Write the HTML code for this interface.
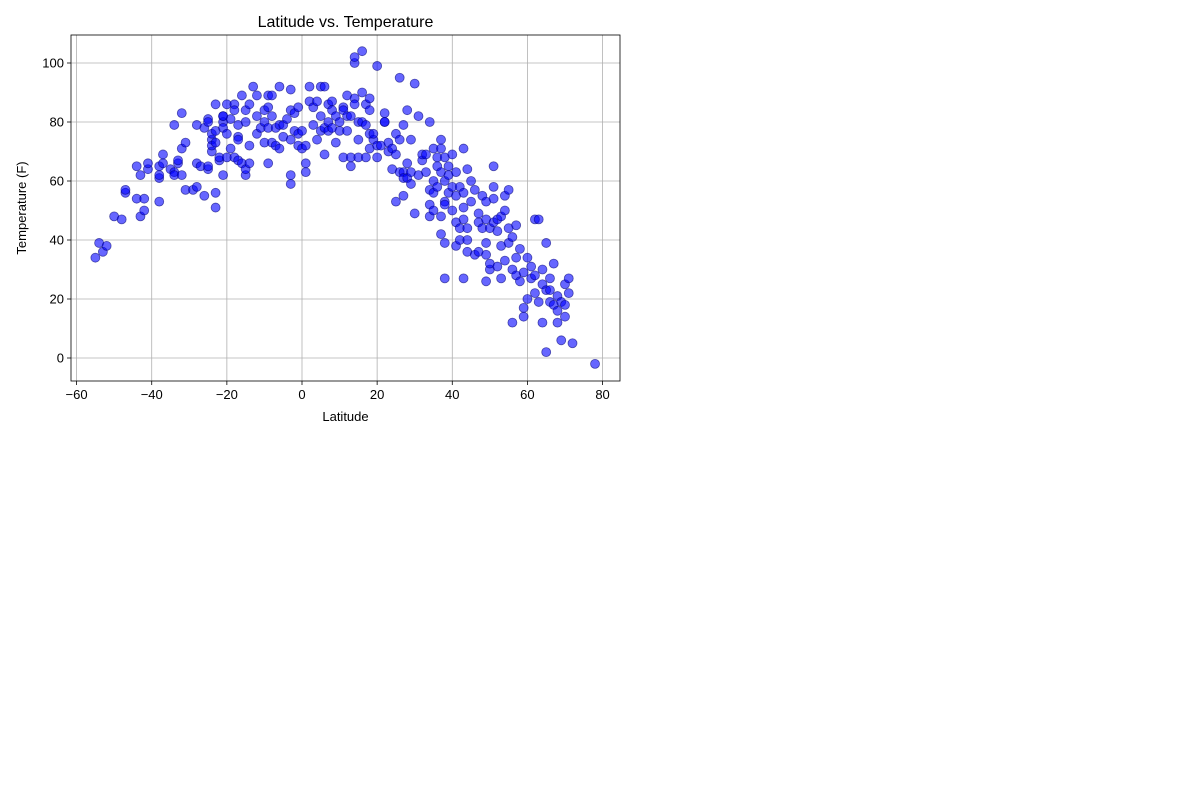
<!DOCTYPE html>
<html><head><meta charset="utf-8"><style>
body{margin:0;background:#fff;width:1200px;height:800px;overflow:hidden}
svg{font-family:"Liberation Sans","DejaVu Sans",sans-serif}
</style></head><body>
<svg id="chart" width="1200" height="800" xmlns="http://www.w3.org/2000/svg"></svg>
<script>
const latitudes=[-55,-54,-53,-52,-50,-48,-47,-47,-44,-44,-43,-43,-42,-42,-41,-41,-38,-38,-38,-38,-37,-37,-35,-34,-34,-34,-33,-33,-32,-32,-32,-31,-31,-29,-28,-28,-28,-27,-26,-26,-25,-25,-25,-25,-24,-24,-24,-24,-23,-23,-23,-23,-23,-22,-22,-21,-21,-21,-21,-21,-20,-20,-20,-19,-19,-18,-18,-18,-17,-17,-17,-17,-16,-16,-15,-15,-15,-15,-14,-14,-14,-13,-12,-12,-12,-11,-10,-10,-10,-9,-9,-9,-9,-8,-8,-8,-7,-7,-6,-6,-6,-5,-5,-4,-3,-3,-3,-3,-3,-2,-2,-1,-1,-1,0,0,1,1,1,2,2,3,3,4,4,5,5,5,6,6,6,7,7,7,8,8,8,9,9,10,10,11,11,11,12,12,12,13,13,13,14,14,14,14,15,15,15,16,16,16,17,17,17,18,18,18,18,19,19,20,20,20,21,22,22,22,23,23,24,24,25,25,25,26,26,26,27,27,27,27,28,28,28,29,29,29,30,30,31,31,32,32,33,33,34,34,34,34,35,35,35,35,36,36,36,37,37,37,37,37,38,38,38,38,38,38,39,39,39,40,40,40,41,41,41,41,42,42,42,43,43,43,43,43,44,44,44,44,45,45,46,46,47,47,47,48,48,49,49,49,49,49,50,50,50,51,51,51,51,52,52,52,53,53,53,54,54,54,55,55,55,56,56,56,57,57,57,58,58,59,59,59,60,60,61,61,62,62,62,63,63,64,64,64,65,65,65,66,66,66,67,67,68,68,68,69,69,70,70,70,71,71,72,78];
const temperatures=[34,39,36,38,48,47,56,57,54,65,62,48,50,54,64,66,61,62,53,65,66,69,64,63,62,79,66,67,62,83,71,57,73,57,58,66,79,65,78,55,81,80,64,65,70,74,76,72,86,51,56,77,73,67,68,82,80,82,78,62,76,86,68,71,81,68,86,84,75,79,74,67,89,66,84,80,62,64,86,66,72,92,76,82,89,78,73,80,84,85,89,78,66,73,89,82,72,78,92,71,79,79,75,81,59,62,74,84,91,77,83,72,76,85,71,77,63,72,66,92,87,85,79,87,74,77,82,92,69,92,78,80,86,77,87,84,78,73,82,77,80,68,85,84,89,82,77,65,68,82,100,102,88,86,80,74,68,90,104,80,68,79,86,84,76,88,71,74,76,99,68,72,72,83,80,80,70,73,64,71,53,69,76,95,63,74,79,63,55,61,84,66,61,63,59,74,93,49,82,62,67,69,63,69,80,57,52,48,71,60,50,56,58,68,65,48,42,63,71,74,39,27,53,60,68,52,65,56,62,69,58,50,46,38,55,63,40,44,58,27,71,51,56,47,64,36,40,44,53,60,35,57,46,49,36,55,44,26,35,39,47,53,30,44,32,65,58,54,46,31,43,47,38,27,48,33,50,55,57,44,39,12,30,41,45,34,28,37,26,14,29,17,20,34,27,31,47,28,22,19,47,12,25,30,2,39,23,19,27,23,18,32,12,16,21,19,6,14,18,25,27,22,5,-2];
const xTicks=[-60,-40,-20,0,20,40,60,80];
const yTicks=[0,20,40,60,80,100];
const NS="http://www.w3.org/2000/svg";
const svg=document.getElementById('chart');
const L=71,R=620,T=35,B=381;
const xs=v=>302+v*3.757;
const ys=v=>358-v*2.95;
function mk(tag,attrs,parent){const e=document.createElementNS(NS,tag);for(const k in attrs)e.setAttribute(k,attrs[k]);(parent||svg).appendChild(e);return e;}
const grid=mk('g',{});


xTicks.forEach(t=>{const x=xs(t);if(x>L&&x<R)mk('line',{x1:x,x2:x,y1:T,y2:B,stroke:'#b0b0b0','stroke-width':0.8},grid);
 mk('line',{x1:x,x2:x,y1:B,y2:B+4,stroke:'#000','stroke-width':0.8});
 const tx=mk('text',{x:x,y:B+18,'font-size':13,'text-anchor':'middle'});tx.textContent=(t<0?'\u2212'+(-t):t);
 
 });
yTicks.forEach(t=>{const y=ys(t);mk('line',{x1:L,x2:R,y1:y,y2:y,stroke:'#b0b0b0','stroke-width':0.8},grid);
 mk('line',{x1:L-4,x2:L,y1:y,y2:y,stroke:'#000','stroke-width':0.8});
 const tx=mk('text',{x:L-7,y:y+4.5,'font-size':13,'text-anchor':'end'});tx.textContent=t;
 
 });
const pts=mk('g',{});


latitudes.forEach((la,i)=>{const c=mk('circle',{cx:xs(la),cy:ys(temperatures[i]),r:4.5,fill:'rgba(0,0,255,0.6)',stroke:'rgba(0,0,120,0.6)','stroke-width':0.8},pts);
 
 });
const fr=mk('rect',{x:L,y:T,width:R-L,height:B-T,fill:'none',stroke:'#000','stroke-width':0.8});


const ti=mk('text',{x:(L+R)/2,y:27,'font-size':16,'text-anchor':'middle'});ti.textContent='Latitude vs. Temperature';


const xl=mk('text',{x:(L+R)/2,y:421,'font-size':13,'text-anchor':'middle'});xl.textContent='Latitude';


const yl=mk('text',{x:26,y:(T+B)/2,'font-size':13,'text-anchor':'middle',transform:`rotate(-90 26 ${(T+B)/2})`});yl.textContent='Temperature (F)';


</script>
</body></html>
